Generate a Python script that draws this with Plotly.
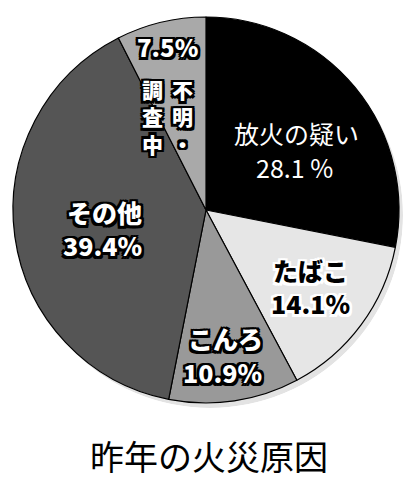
import plotly.graph_objects as go

categories = ["放火の疑い", "たばこ", "こんろ", "その他", "不明・調査中"]
values = [28.1, 14.1, 10.9, 39.4, 7.5]
colors = ["#000000", "#e6e6e6", "#999999", "#555555", "#a9a9a9"]
title_text = "昨年の火災原因"

W, H = 418, 484
cx, cy, r = 206, 210, 193


def dom(cx, cy, r):
    return dict(x=[(cx - r) / W, (cx + r) / W], y=[(H - cy - r) / H, (H - cy + r) / H])


fig = go.Figure()
# drop shadow: a full disc drawn in a hidden polar subplot beneath the pie
fig.add_trace(go.Barpolar(r=[1], theta=[0], width=[360],
                          marker=dict(color="#e3e3e3", line=dict(width=0)),
                          hoverinfo="skip", showlegend=False))
fig.add_trace(go.Pie(values=values, labels=categories, domain=dom(cx, cy, r),
                     marker=dict(colors=colors, line=dict(color="#000000", width=1.2)),
                     direction="clockwise", rotation=0, sort=False,
                     textinfo="none", showlegend=False))

FONT = "Noto Sans CJK JP"


def outline(c, w=2.5):
    parts = []
    for dx in (-w, 0, w):
        for dy in (-w, 0, w):
            if dx or dy:
                parts.append(f"{dx}px {dy}px 0 {c}")
    return ", ".join(parts)


def ann(text, x, y, size=25, color="white", weight=900, shadow=None, yanchor="middle"):
    fig.add_annotation(text=text, x=x / W, y=1 - y / H, xref="paper", yref="paper",
                       showarrow=False, xanchor="center", yanchor=yanchor,
                       font=dict(family=FONT, size=size, color=color, weight=weight,
                                 shadow=shadow if shadow else "none"))


pct = [f"{v:.1f}%" for v in values]
# 放火の疑い
ann(categories[0], 296, 133, size=25, color="white", weight=400)
ann(pct[0].replace("%", " %"), 294, 167, size=25, color="white", weight=400)
# たばこ
ann(categories[1], 310, 270, color="black", shadow=outline("#ffffff"))
ann(pct[1], 310, 303, color="black", shadow=outline("#ffffff"))
# こんろ
ann(categories[2], 225, 338, shadow=outline("#000000"))
ann(pct[2], 223, 372, shadow=outline("#000000"))
# その他
ann(categories[3], 105, 212, shadow=outline("#000000"))
ann(pct[3], 102, 245, shadow=outline("#000000"))
# 不明・調査中 (vertical, two columns read right to left)
ann(pct[4], 167, 47, size=24, shadow=outline("#000000"))
col1 = "<br>".join(categories[4][:3])
col2 = "<br>".join(categories[4][3:])
ann(col1, 182, 72, size=21, shadow=outline("#000000"), yanchor="top")
ann(col2, 152, 72, size=21, shadow=outline("#000000"), yanchor="top")

ann(title_text, 209, 455, size=34, color="black", weight=400)

fig.update_layout(
    width=W, height=H, margin=dict(l=0, r=0, t=0, b=0),
    paper_bgcolor="white", plot_bgcolor="white",
    polar=dict(domain=dom(cx + 4, cy + 5, r), bgcolor="rgba(0,0,0,0)", hole=0,
               radialaxis=dict(visible=False, range=[0, 1]),
               angularaxis=dict(visible=False)),
)
fig.write_html("out.html", config={"displayModeBar": False},
               post_script="document.body.style.margin='0';document.body.style.overflow='hidden';")
